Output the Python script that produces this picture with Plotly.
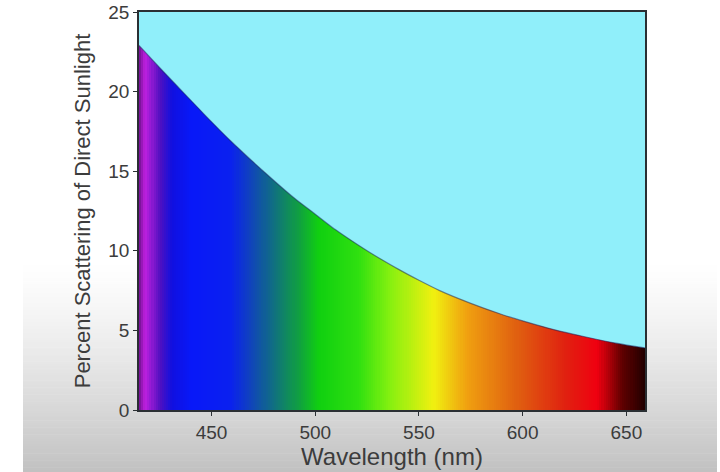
import plotly.graph_objects as go
import numpy as np

# ---- data ----
wavelength_nm = [415, 425, 440, 450, 460, 475, 490, 500, 510, 525,
                 540, 550, 560, 575, 590, 600, 615, 630, 645, 659]
scatter_pct = [22.9, 21.5, 19.45, 18.1, 16.8, 15.0, 13.3, 12.3, 11.3, 10.0,
               8.85, 8.15, 7.5, 6.7, 6.0, 5.6, 5.05, 4.6, 4.2, 3.9]
x_ticks = [450, 500, 550, 600, 650]
y_ticks = [0, 5, 10, 15, 20, 25]
x_range = [415, 659]
y_range = [0, 25]

# spectrum colour stops (wavelength, colour)
spec_wl = [415, 418, 425, 431, 440, 459, 468, 480, 492, 502, 521, 535,
           557, 573, 597, 621, 636, 648, 659]
spec_col = ["#701090", "#C020E0", "#5010C0", "#1010E0", "#0818F8", "#0A20F0",
            "#1040C0", "#107080", "#10A040", "#10D010", "#30E010", "#80F010",
            "#F0F010", "#F0A010", "#E06010", "#E02010", "#F00010", "#600000",
            "#200000"]

W, H = 720, 472
ML, MR, MT, MB = 139, 75, 12, 62

span = x_range[1] - x_range[0]
colorscale = [[(w - x_range[0]) / span, c] for w, c in zip(spec_wl, spec_col)]

edges = np.arange(x_range[0], x_range[1] + 1, 1.0)
centers = (edges[:-1] + edges[1:]) / 2

fig = go.Figure()

fig.add_trace(go.Heatmap(
    x=edges, y=y_range, z=[centers],
    colorscale=colorscale, zmin=x_range[0], zmax=x_range[1],
    showscale=False, hoverinfo="skip"))

# top boundary, then fill between curve and top
fig.add_trace(go.Scatter(
    x=x_range, y=[y_range[1], y_range[1]], mode="lines",
    line=dict(width=0, color="#90EFFA"), hoverinfo="skip", showlegend=False))
fig.add_trace(go.Scatter(
    x=wavelength_nm, y=scatter_pct,
    fill="tonexty", fillcolor="#90EFFA",
    mode="lines", line=dict(color="rgba(20,30,90,0.5)", width=1.2, shape="spline",
                            smoothing=0.8),
    hoverinfo="skip", showlegend=False))

# photo-like grey gradient background (card)
shapes = []
n = 90
y0px, y1px = 260, H
for i in range(n):
    a = y0px + (y1px - y0px) * i / n
    b = y0px + (y1px - y0px) * (i + 1) / n
    t = (i + 0.5) / n
    g = int(round(255 - 62 * t ** 1.3))
    col = f"rgb({g},{g},{g})"
    shapes.append(dict(type="rect", xref="paper", yref="paper", layer="below",
                       x0=(23 - ML) / (W - ML - MR), x1=(717 - ML) / (W - ML - MR),
                       y0=(H - MB - b - 0.5) / (H - MT - MB), y1=(H - MB - a) / (H - MT - MB),
                       line=dict(width=0), fillcolor=col))

font_family = "Liberation Sans, Arial, sans-serif"

fig.update_layout(
    width=W, height=H,
    margin=dict(l=ML, r=MR, t=MT, b=MB, autoexpand=False),
    paper_bgcolor="white", plot_bgcolor="#90EFFA",
    showlegend=False,
    shapes=shapes,
    font=dict(family=font_family, color="#3c3c3c"),
    xaxis=dict(range=x_range, tickvals=x_ticks, showgrid=False, zeroline=False,
               showline=True, mirror=True, linecolor="#2a2f33", linewidth=1.5,
               ticks="outside", ticklen=4, tickcolor="#2a2f33", automargin=False,
               tickfont=dict(size=19, color="#3c3c3c"),
               title=dict(text="Wavelength (nm)", font=dict(size=24, color="#3c3c3c"),
                          standoff=2)),
    yaxis=dict(range=y_range, tickvals=y_ticks, showgrid=False, zeroline=False,
               showline=True, mirror=True, linecolor="#2a2f33", linewidth=1.5,
               ticks="outside", ticklen=4, tickcolor="#2a2f33", automargin=False,
               tickfont=dict(size=19, color="#3c3c3c"),
               title=dict(text="Percent Scattering of Direct Sunlight",
                          font=dict(size=22, color="#3c3c3c"), standoff=12)),
)

fig.write_html("out.html", config={"displayModeBar": False},
               post_script="document.body.style.margin='0';document.body.style.overflow='hidden';")
